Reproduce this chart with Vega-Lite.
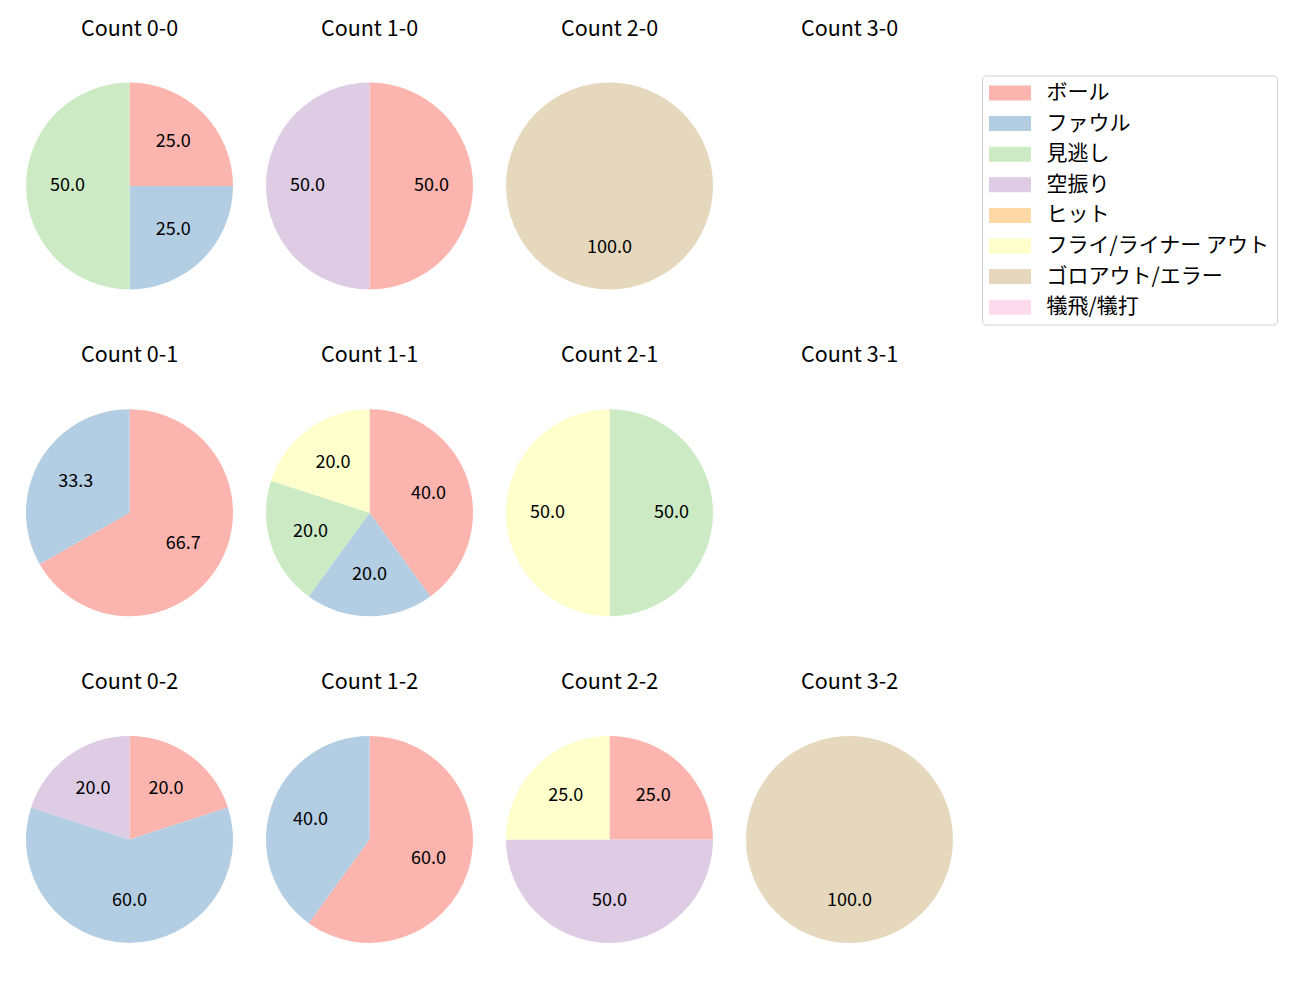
{
  "$schema": "https://vega.github.io/schema/vega-lite/v6.json",
  "padding": {"left": 26, "top": 18.5, "right": 5, "bottom": 5},
  "background": "white",
  "data": {"values": [
    {"count": "Count 0-0", "type": "ボール", "k": 0, "value": 25},
    {"count": "Count 0-0", "type": "ファウル", "k": 1, "value": 25},
    {"count": "Count 0-0", "type": "見逃し", "k": 2, "value": 50},
    {"count": "Count 1-0", "type": "ボール", "k": 0, "value": 50},
    {"count": "Count 1-0", "type": "空振り", "k": 3, "value": 50},
    {"count": "Count 2-0", "type": "ゴロアウト/エラー", "k": 6, "value": 100},
    {"count": "Count 3-0", "type": "ボール", "k": 0, "value": 0},
    {"count": "Count 0-1", "type": "ボール", "k": 0, "value": 66.7},
    {"count": "Count 0-1", "type": "ファウル", "k": 1, "value": 33.3},
    {"count": "Count 1-1", "type": "ボール", "k": 0, "value": 40},
    {"count": "Count 1-1", "type": "ファウル", "k": 1, "value": 20},
    {"count": "Count 1-1", "type": "見逃し", "k": 2, "value": 20},
    {"count": "Count 1-1", "type": "フライ/ライナー アウト", "k": 5, "value": 20},
    {"count": "Count 2-1", "type": "見逃し", "k": 2, "value": 50},
    {"count": "Count 2-1", "type": "フライ/ライナー アウト", "k": 5, "value": 50},
    {"count": "Count 3-1", "type": "ボール", "k": 0, "value": 0},
    {"count": "Count 0-2", "type": "ボール", "k": 0, "value": 20},
    {"count": "Count 0-2", "type": "ファウル", "k": 1, "value": 60},
    {"count": "Count 0-2", "type": "空振り", "k": 3, "value": 20},
    {"count": "Count 1-2", "type": "ボール", "k": 0, "value": 60},
    {"count": "Count 1-2", "type": "ファウル", "k": 1, "value": 40},
    {"count": "Count 2-2", "type": "ボール", "k": 0, "value": 25},
    {"count": "Count 2-2", "type": "空振り", "k": 3, "value": 50},
    {"count": "Count 2-2", "type": "フライ/ライナー アウト", "k": 5, "value": 25},
    {"count": "Count 3-2", "type": "ゴロアウト/エラー", "k": 6, "value": 100}
  ]},
  "facet": {
    "field": "count",
    "type": "nominal",
    "sort": ["Count 0-0", "Count 1-0", "Count 2-0", "Count 3-0", "Count 0-1", "Count 1-1", "Count 2-1", "Count 3-1", "Count 0-2", "Count 1-2", "Count 2-2", "Count 3-2"],
    "header": {"title": null, "labelFont": "Noto Sans CJK JP", "labelFontSize": 21.5, "labelColor": "black", "labelPadding": 42.5}
  },
  "columns": 4,
  "spacing": {"row": 55.7, "column": 33},
  "spec": {
    "width": 207,
    "height": 207,
    "layer": [
      {
        "mark": {"type": "arc"},
        "encoding": {
          "theta": {"field": "value", "type": "quantitative", "stack": true, "scale": {"domain": [0, 100]}},
          "order": {"field": "k", "type": "quantitative"},
          "color": {
            "field": "type", "type": "nominal",
            "scale": {
              "domain": ["ボール", "ファウル", "見逃し", "空振り", "ヒット", "フライ/ライナー アウト", "ゴロアウト/エラー", "犠飛/犠打"],
              "range": ["#fbb4ae", "#b3cde3", "#ccebc5", "#decbe4", "#fed9a6", "#ffffcc", "#e5d8bd", "#fddaec"]
            },
            "legend": {"orient": "none", "legendX": 956, "legendY": -7, "title": null}
          }
        }
      },
      {
        "transform": [{"filter": "datum.value > 0"}],
        "mark": {"type": "text", "radius": 62, "font": "Noto Sans CJK JP", "fontSize": 18, "color": "black"},
        "encoding": {
          "theta": {"field": "value", "type": "quantitative", "stack": true, "scale": {"domain": [0, 100]}},
          "order": {"field": "k", "type": "quantitative"},
          "text": {"field": "value", "type": "quantitative", "format": ".1f"}
        }
      }
    ]
  },
  "config": {
    "view": {"stroke": null},
    "legend": {
      "strokeColor": "#d0d0d0",
      "cornerRadius": 4,
      "padding": 7,
      "fillColor": "white",
      "labelFont": "Noto Sans CJK JP",
      "labelFontSize": 21,
      "labelColor": "black",
      "symbolType": "M-2.1,-0.75L2.1,-0.75L2.1,0.75L-2.1,0.75Z",
      "symbolSize": 400,
      "symbolStrokeWidth": 0,
      "symbolOpacity": 1,
      "symbolOffset": 10.5,
      "labelOffset": 26,
      "rowPadding": 8.6,
      "labelLimit": 400
    }
  }
}
